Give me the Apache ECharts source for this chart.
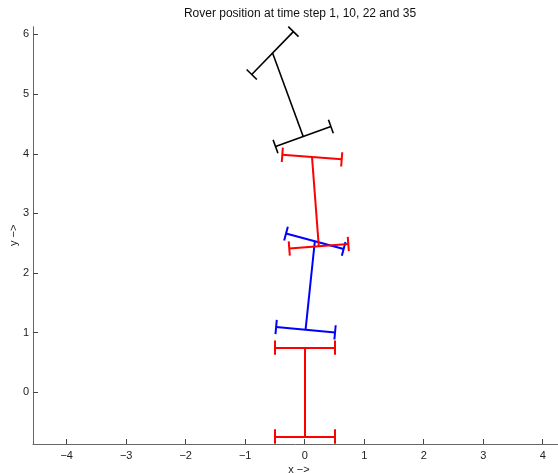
<!DOCTYPE html>
<html>
<head>
<meta charset="utf-8">
<style>html,body{margin:0;padding:0;background:#fff;}#c{width:558px;height:474px;}</style>
<script src="https://cdn.jsdelivr.net/npm/echarts@6/dist/echarts.min.js"></script>
</head>
<body>
<div id="c"></div>
<script>
// Data
const steps = [1, 10, 22, 35];
const rearLeft   = [[-0.50, -0.74], [-0.48, 1.096], [-0.259, 2.412], [-0.49, 4.12]];
const rearRight  = [[ 0.50, -0.74], [ 0.51, 1.005], [ 0.733, 2.488], [ 0.44, 4.456]];
const frontLeft  = [[-0.50,  0.75], [-0.314, 2.662], [-0.376, 3.982], [-0.89, 5.328]];
const frontRight = [[ 0.50,  0.75], [ 0.655, 2.404], [ 0.622, 3.906], [-0.19, 6.048]];
const capHalf = 0.12;
const xTicks = [-4, -3, -2, -1, 0, 1, 2, 3, 4];
const yTicks = [0, 1, 2, 3, 4, 5, 6];
const titleText = 'Rover position at time step 1, 10, 22 and 35';

// Styles
const colors = ['#ff0000', '#0000ff', '#ff0000', '#000000'];
const widths = [2, 2, 2, 1.6];

function mid(a, b) { return [(a[0] + b[0]) / 2, (a[1] + b[1]) / 2]; }
function caps(a, b) {
  const dx = b[0] - a[0], dy = b[1] - a[1];
  const L = Math.hypot(dx, dy);
  const px = -dy / L * capHalf, py = dx / L * capHalf;
  return [
    [[a[0] + px, a[1] + py], [a[0] - px, a[1] - py]],
    [[b[0] + px, b[1] + py], [b[0] - px, b[1] - py]]
  ];
}
const series = steps.map((s, i) => {
  const rl = rearLeft[i], rr = rearRight[i], fl = frontLeft[i], fr = frontRight[i];
  const segs = [[rl, rr], [fl, fr], [mid(rl, rr), mid(fl, fr)]]
    .concat(caps(rl, rr)).concat(caps(fl, fr));
  return {
    type: 'lines',
    name: 'step ' + s,
    coordinateSystem: 'cartesian2d',
    polyline: false,
    silent: true,
    clip: true,
    lineStyle: { color: colors[i], width: widths[i], opacity: 1, curveness: 0 },
    data: segs.map(c => ({ coords: c }))
  };
});

const fmt = v => String(v).replace('-', '\u2212');
const axisCommon = {
  type: 'value',
  splitLine: { show: false },
  axisLine: { onZero: false, lineStyle: { color: '#666', width: 1 } },
  axisTick: { inside: true, length: 5, lineStyle: { color: '#444', width: 1 } },
  nameMoveOverlap: false,
  nameTextStyle: { fontFamily: 'Liberation Sans', fontSize: 11, color: '#222' }
};

const chart = echarts.init(document.getElementById('c'), null, { renderer: 'canvas' });
chart.setOption({
  animation: false,
  backgroundColor: '#fff',
  title: {
    text: titleText,
    left: 295,
    top: 3,
    textAlign: 'center',
    textStyle: { fontFamily: 'Liberation Sans', fontSize: 12, fontWeight: 'normal', color: '#111' }
  },
  grid: { left: 33, right: 0, top: 26.7, bottom: 30, containLabel: false, outerBoundsMode: 'none' },
  xAxis: Object.assign({}, axisCommon, {
    min: -4.566, max: 4.257,
    name: 'x \u2212>',
    nameLocation: 'middle',
    nameGap: 20,
    nameTextStyle: Object.assign({}, axisCommon.nameTextStyle, { padding: [0, 0, 0, 7] }),
    axisTick: Object.assign({}, axisCommon.axisTick, { customValues: xTicks }),
    axisLabel: { customValues: xTicks, formatter: fmt, margin: 6, fontFamily: 'Liberation Sans', fontSize: 11, color: '#222' }
  }),
  yAxis: Object.assign({}, axisCommon, {
    min: -0.866, max: 6.13,
    name: 'y \u2212>',
    nameLocation: 'middle',
    nameGap: 14,
    axisTick: Object.assign({}, axisCommon.axisTick, { customValues: yTicks }),
    axisLabel: { customValues: yTicks, formatter: fmt, margin: 4, fontFamily: 'Liberation Sans', fontSize: 11, color: '#222' }
  }),
  series: series
});
</script>
</body>
</html>
